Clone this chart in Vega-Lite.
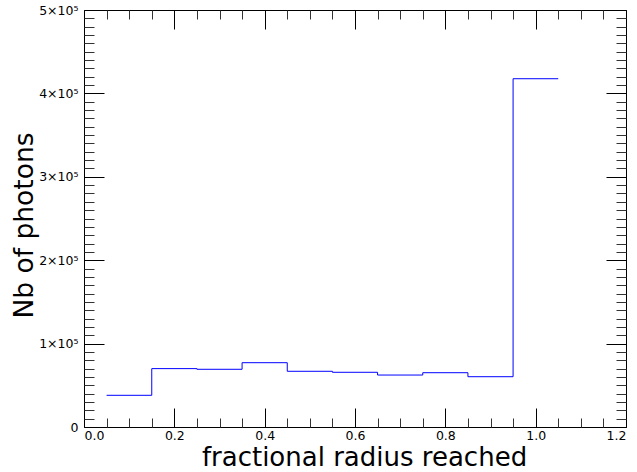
{
  "$schema": "https://vega.github.io/schema/vega-lite/v6.json",
  "width": 542,
  "height": 417,
  "autosize": {"type": "none"},
  "padding": {"left": 84, "top": 10, "right": 11, "bottom": 45},
  "config": {
    "font": "DejaVu Sans",
    "view": {"stroke": "#000", "strokeWidth": 1},
    "axis": {"grid": false, "domain": false, "labelFont": "DejaVu Sans", "titleFont": "DejaVu Sans", "labelColor": "#000", "titleColor": "#000", "labelFontSize": 12.5, "titleFontSize": 26, "titleFontWeight": "normal", "tickColor": "#000", "tickWidth": 1}
  },
  "data": {"values": [
    {"lo": 0.05, "hi": 0.15, "n": 38000},
    {"lo": 0.15, "hi": 0.25, "n": 70000},
    {"lo": 0.25, "hi": 0.35, "n": 69200},
    {"lo": 0.35, "hi": 0.45, "n": 77100},
    {"lo": 0.45, "hi": 0.55, "n": 66800},
    {"lo": 0.55, "hi": 0.65, "n": 65600},
    {"lo": 0.65, "hi": 0.75, "n": 62300},
    {"lo": 0.75, "hi": 0.85, "n": 65100},
    {"lo": 0.85, "hi": 0.95, "n": 60300},
    {"lo": 0.95, "hi": 1.05, "n": 417600}
  ]},
  "resolve": {"axis": {"x": "independent", "y": "independent"}},
  "layer": [
    {
      "mark": {"type": "rule", "color": "#0000ff", "strokeWidth": 1},
      "encoding": {
        "x": {"field": "lo", "type": "quantitative", "scale": {"domain": [0, 1.2], "nice": false}, "axis": {"orient": "bottom", "title": "fractional radius reached", "values": [0, 0.2, 0.4, 0.6, 0.8, 1.0, 1.2], "format": ".1f", "tickSize": -19, "labelPadding": 21, "titleX": 280, "titleY": 38, "titleBaseline": "alphabetic"}},
        "x2": {"field": "hi"},
        "y": {"field": "n", "type": "quantitative", "scale": {"domain": [0, 500000], "nice": false}, "axis": {"orient": "left", "title": "Nb of photons", "values": [0, 100000, 200000, 300000, 400000, 500000], "labelExpr": "datum.value == 0 ? '0' : (datum.value/100000) + '×10⁵'", "tickSize": -20, "labelPadding": 26, "titleX": -52, "titleY": 215, "titleAngle": -90, "titleBaseline": "alphabetic", "titleAlign": "center", "titleFontSize": 26.5}}
      }
    },
    {
      "transform": [
        {"window": [{"op": "lead", "field": "n", "as": "next"}]},
        {"filter": "datum.next != null"}
      ],
      "mark": {"type": "rule", "color": "#0000ff", "strokeWidth": 1},
      "encoding": {
        "x": {"field": "hi", "type": "quantitative", "axis": null},
        "y": {"field": "n", "type": "quantitative", "axis": null},
        "y2": {"field": "next"}
      }
    },
    {
      "mark": {"type": "rule", "opacity": 0},
      "encoding": {
        "x": {"field": "lo", "type": "quantitative", "axis": {"orient": "bottom", "title": null, "labels": false, "values": [0.05, 0.1, 0.15, 0.25, 0.3, 0.35, 0.45, 0.5, 0.55, 0.65, 0.7, 0.75, 0.85, 0.9, 0.95, 1.05, 1.1, 1.15], "tickSize": -9, "tickColor": "#333"}},
        "y": {"field": "n", "type": "quantitative", "axis": {"orient": "left", "title": null, "labels": false, "values": [10000, 20000, 30000, 40000, 50000, 60000, 70000, 80000, 90000, 110000, 120000, 130000, 140000, 150000, 160000, 170000, 180000, 190000, 210000, 220000, 230000, 240000, 250000, 260000, 270000, 280000, 290000, 310000, 320000, 330000, 340000, 350000, 360000, 370000, 380000, 390000, 410000, 420000, 430000, 440000, 450000, 460000, 470000, 480000, 490000], "tickSize": -10, "tickColor": "#333"}}
      }
    },
    {
      "mark": {"type": "rule", "opacity": 0},
      "encoding": {
        "x": {"field": "lo", "type": "quantitative", "axis": {"orient": "top", "title": null, "labels": false, "values": [0, 0.2, 0.4, 0.6, 0.8, 1.0, 1.2], "tickSize": -19}},
        "y": {"field": "n", "type": "quantitative", "axis": {"orient": "right", "title": null, "labels": false, "values": [0, 100000, 200000, 300000, 400000, 500000], "tickSize": -20}}
      }
    },
    {
      "mark": {"type": "rule", "opacity": 0},
      "encoding": {
        "x": {"field": "lo", "type": "quantitative", "axis": {"orient": "top", "title": null, "labels": false, "values": [0.05, 0.1, 0.15, 0.25, 0.3, 0.35, 0.45, 0.5, 0.55, 0.65, 0.7, 0.75, 0.85, 0.9, 0.95, 1.05, 1.1, 1.15], "tickSize": -9, "tickColor": "#333"}},
        "y": {"field": "n", "type": "quantitative", "axis": {"orient": "right", "title": null, "labels": false, "values": [10000, 20000, 30000, 40000, 50000, 60000, 70000, 80000, 90000, 110000, 120000, 130000, 140000, 150000, 160000, 170000, 180000, 190000, 210000, 220000, 230000, 240000, 250000, 260000, 270000, 280000, 290000, 310000, 320000, 330000, 340000, 350000, 360000, 370000, 380000, 390000, 410000, 420000, 430000, 440000, 450000, 460000, 470000, 480000, 490000], "tickSize": -10, "tickColor": "#333"}}
      }
    }
  ]
}
